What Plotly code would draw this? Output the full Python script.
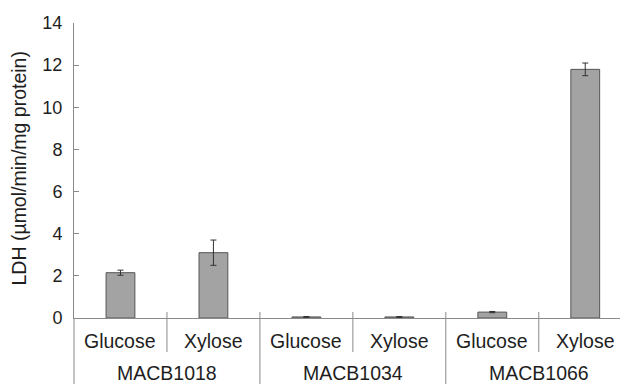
import plotly.graph_objects as go

groups = ["MACB1018", "MACB1034", "MACB1066"]
sugars = ["Glucose", "Xylose"]
ldh = [2.15, 3.1, 0.05, 0.05, 0.28, 11.8]
ldh_err = [0.12, 0.6, 0.02, 0.02, 0.03, 0.3]
y_ticks = [0, 2, 4, 6, 8, 10, 12, 14]

# the page body adds an 8px margin, so the figure is 8px smaller each way
W, H = 620, 376
L, T, B = 66, 15, 66
plot_h = H - T - B
plot_w = W - L
py = lambda p: p / plot_h
pxw = lambda p: p / plot_w

labels = [s for g in groups for s in sugars]
xs = list(range(len(labels)))

fig = go.Figure()
fig.add_trace(go.Bar(
    x=xs, y=ldh, width=0.31,
    marker=dict(color="#a3a3a3", line=dict(color="#555555", width=1)),
    error_y=dict(type="data", array=ldh_err, visible=True, color="#333333", thickness=1, width=3),
))

fam = "Liberation Sans, Arial, sans-serif"
font = dict(family=fam, size=19.5, color="#1e1e1e")
tick_font = dict(family=fam, size=18, color="#1e1e1e")
axis_col = "#8a8a8a"

shapes = []
shapes.append(dict(type="line", xref="paper", yref="paper", x0=0, x1=0, y0=0, y1=-py(B) - 0.01,
                   line=dict(color=axis_col, width=1)))
for i in range(len(labels) - 1):
    xpos = i + 0.5
    long_sep = (i % 2 == 1)
    shapes.append(dict(type="line", xref="x", yref="paper", x0=xpos, x1=xpos,
                       y0=py(6), y1=(-py(B) - 0.01) if long_sep else -py(34),
                       line=dict(color=axis_col, width=1)))

ann = []
for i, lab in enumerate(labels):
    ann.append(dict(x=i, y=-py(23), xref="x", yref="paper", text=lab, showarrow=False,
                    font=font, yanchor="middle", xanchor="center"))
for j, g in enumerate(groups):
    ann.append(dict(x=2 * j + 0.5, y=-py(55), xref="x", yref="paper", text=g, showarrow=False,
                    font=font, yanchor="middle", xanchor="center"))
ann.append(dict(x=-pxw(L - 11.5), y=0.505, xref="paper", yref="paper",
                text="LDH (µmol/min/mg protein)", textangle=-90, showarrow=False,
                font=font, xanchor="center", yanchor="middle"))

fig.update_layout(
    width=W, height=H,
    margin=dict(l=L, r=0, t=T, b=B, autoexpand=False),
    plot_bgcolor="white", paper_bgcolor="white",
    showlegend=False,
    font=font,
    shapes=shapes, annotations=ann,
    xaxis=dict(range=[-0.5, 5.46], showticklabels=False, ticks="", showgrid=False, zeroline=False,
               showline=True, linecolor=axis_col, linewidth=1, automargin=False),
    yaxis=dict(range=[0, 14], tickvals=y_ticks, ticks="inside", ticklen=5, tickcolor=axis_col,
               showgrid=False, zeroline=False, showline=True, linecolor=axis_col, linewidth=1,
               ticklabelstandoff=7, tickfont=tick_font, automargin=False),
)

fig.write_html("out.html")
